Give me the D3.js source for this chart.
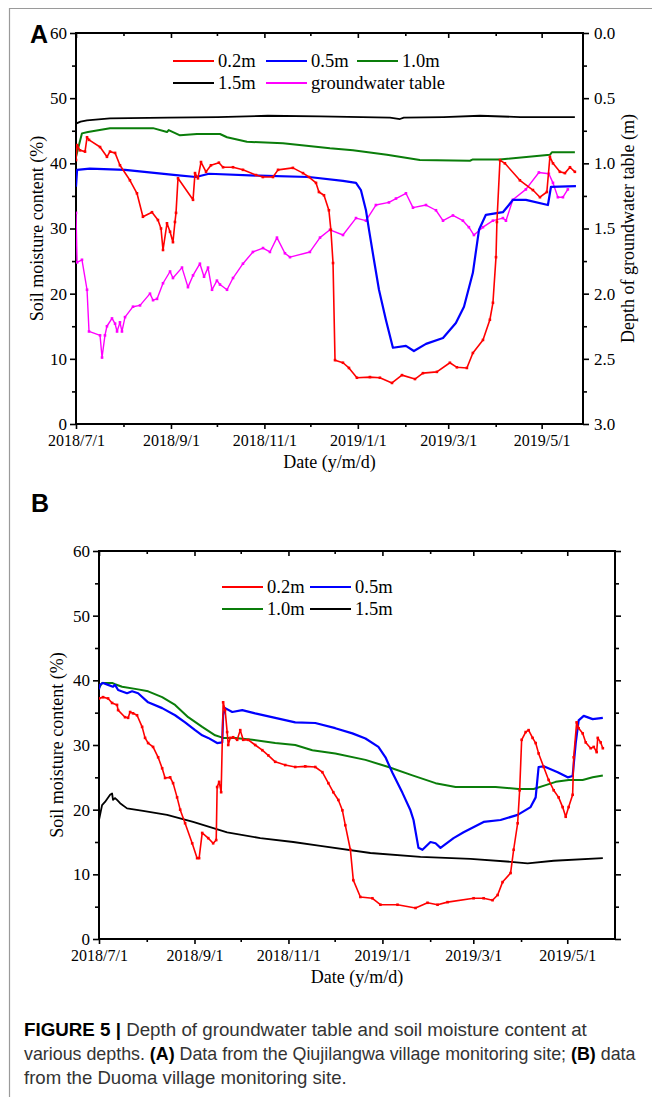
<!DOCTYPE html>
<html>
<head>
<meta charset="utf-8">
<script src="https://cdn.jsdelivr.net/npm/d3@7"></script>
<style>
  html, body { margin: 0; padding: 0; background: #fff; }
  svg { display: block; }
</style>
</head>
<body>
<svg id="fig" width="652" height="1097"></svg>
<script>
// ---------------- DATA (day offset from 2018/7/1, value) ----------------
const startDate = "2018-07-01";
const endDateA = 331;           // days shown in panel A
const endDateB = 335;           // days shown in panel B (to 2019/6/1)

// Panel A - soil moisture (%)
const a_02 = [[0,40.5],[0.7,42.8],[2.6,42],[5.9,41.8],[7.2,44],[8.5,43.6],[15.7,42.5],[20.2,41],[22.2,41.8],[25.5,41.6],[28.7,39.7],[35.2,37.4],[39.8,35.4],[43.7,31.8],[49.6,32.5],[53.5,31.3],[55.5,30],[56.8,26.7],[59.4,30.8],[61.4,29.5],[63.3,27.9],[64.6,31],[65.3,32.4],[66.6,37.7],[76.4,34.4],[77.7,38.5],[79.6,37.7],[81.6,40.2],[84.9,38.7],[88.1,39.7],[93.3,40.1],[96,39.4],[102.5,39.4],[109,39],[117.5,38.2],[122,37.9],[128.6,37.9],[131.9,39],[141.6,39.3],[148.2,38.5],[152.1,37.9],[156.7,37],[158.6,35.6],[161.9,35.1],[165.1,32.8],[166.4,29.8],[167.8,24.7],[169.1,9.8],[174.3,9.4],[178.2,8.6],[183.4,7.1],[191.9,7.2],[198.4,7.1],[206.3,6.3],[212.8,7.5],[221.3,6.9],[226.5,7.8],[235.6,8],[244.1,9.4],[248.7,8.7],[255.2,8.6],[259.1,10.9],[265.7,12.9],[270.2,16],[272.2,18.6],[274.2,25.6],[274.8,31],[276.8,40.5],[280,40],[289.8,37.4],[298.3,35.9],[302.9,34.8],[307.4,35.6],[309.4,41],[311.4,40],[315.9,38.7],[319.2,38.5],[322.5,39.4],[325.7,38.7]];
const a_05 = [[0,36.4],[0.7,39],[9,39.2],[32,39],[65.3,38.2],[78.3,37.9],[86.8,38.4],[119.5,38.1],[152.1,37.9],[174.3,37.3],[182.8,37],[186,35.9],[189.3,32.8],[191.3,29.8],[194.5,25.2],[197.8,20.6],[202.3,16],[206.9,11.7],[215.4,12],[220.6,11.2],[228.5,12.3],[239.6,13.2],[248,15.5],[253.3,18],[259.1,23.2],[263.1,29.8],[267.6,32.1],[278.7,32.5],[282.6,33.6],[285.2,34.4],[293.7,34.4],[308.1,33.6],[310.1,36.4],[326.4,36.5]];
const a_10 = [[0,41],[3.9,44.6],[7.8,44.8],[22.2,45.4],[50.3,45.4],[59.4,44.8],[60.5,45.1],[67.9,44.3],[79,44.5],[94,44.5],[98.6,44],[111.6,43.3],[135.1,43.1],[165.8,42.3],[180.8,42],[203,41.3],[224.5,40.5],[257.2,40.4],[259.1,40.6],[276.8,40.6],[309.4,41.3],[310.7,41.7],[325.7,41.7]];
const a_15 = [[0,46.1],[3,46.4],[7.2,46.6],[22.2,46.9],[60,47],[92.7,47.1],[125.3,47.3],[159.3,47.2],[205,47.0],[211.5,46.8],[214,47.0],[240,47.1],[263.7,47.3],[290,47.1],[325.7,47.1]];
// Panel A - groundwater table depth (m)
const a_gw = [[0,1.38],[0.7,1.76],[3.9,1.74],[7.2,1.97],[8.5,2.29],[15.7,2.32],[17,2.49],[18.9,2.32],[20.2,2.25],[23.5,2.19],[25.5,2.23],[26.8,2.29],[28.7,2.22],[30,2.29],[32,2.18],[37.2,2.10],[41.8,2.09],[48.3,2.0],[50.3,2.05],[52.9,2.04],[56.8,1.92],[61.4,1.83],[63.3,1.88],[69.2,1.80],[73.1,1.95],[76.4,1.86],[80.9,1.77],[83.6,1.87],[86.2,1.80],[88.8,1.97],[92,1.90],[94,1.93],[98.6,1.97],[102.5,1.88],[109,1.77],[115.5,1.68],[122.1,1.65],[126.6,1.68],[131.2,1.57],[136.4,1.69],[139.7,1.72],[152.7,1.68],[159.3,1.57],[165.8,1.51],[174.3,1.55],[182.8,1.42],[189.3,1.44],[195.8,1.32],[204.3,1.30],[208.9,1.27],[215.4,1.23],[220,1.34],[228.5,1.32],[235,1.36],[239.6,1.44],[246.1,1.40],[252.6,1.44],[256.5,1.49],[259.8,1.55],[265.7,1.49],[272.2,1.44],[278.7,1.42],[280.7,1.44],[285.2,1.28],[293.7,1.20],[302.2,1.07],[308.7,1.08],[311.4,1.15],[314.6,1.26],[317.9,1.26],[321.1,1.20]];

// Panel B - soil moisture (%)
const b_02 = [[0,37.2],[2.6,37.4],[5.9,37.2],[8.5,36.5],[11.7,36.2],[12.4,35.4],[16.9,34.3],[18.9,34.2],[20.2,35.1],[22.1,34.9],[24.7,34.6],[28,32.8],[29.9,31.1],[31.9,30.3],[35.1,29.7],[38.4,28.1],[41,26.4],[42.9,24.9],[46.2,25.0],[48.1,24.1],[50.7,21.9],[52.7,20.0],[55.9,17.9],[60.5,14.8],[63.7,12.5],[65,12.5],[67,16.4],[70.9,15.6],[74.1,14.8],[76.1,15.3],[76.7,23.5],[78,24.3],[79.3,22.7],[80.6,36.6],[81.9,35.4],[83.2,32],[83.9,30],[85.2,31.1],[87.1,31.2],[89.7,30.8],[91.7,32.3],[93.6,30.8],[96.9,30.8],[101.4,30],[106,29.2],[109.9,28.4],[114.4,27.4],[120.9,26.9],[127.4,26.6],[133.9,26.7],[140.4,26.6],[145,25.8],[148.9,24.1],[152.1,22.7],[155.4,21.5],[158,19.9],[159.9,17.6],[163.2,13.8],[165.1,9.1],[169.7,6.5],[177.5,6.3],[182.7,5.3],[193.8,5.3],[205.5,4.8],[213.3,5.6],[219.8,5.3],[226.3,5.7],[243.2,6.3],[249.7,6.3],[255.5,6.0],[258.8,6.8],[262,8.8],[267.2,10.2],[269.2,13.8],[271.8,17.9],[273.1,23.0],[274.4,30.8],[277,32],[278.9,32.3],[281.5,31.1],[283.5,30.3],[285.4,28.7],[288.7,26.6],[291.9,24.6],[295.2,23.0],[298.4,21.9],[301,20.4],[303,18.9],[304.9,20.4],[307.5,22.3],[308.2,28.1],[310.1,33.5],[311.4,32.6],[314,31.8],[316,30.4],[319.2,29.5],[321.2,29.7],[323.1,28.9],[323.8,31.1],[325.7,30.4],[327.1,29.5]];
const b_05 = [[0,38.6],[0.6,39.3],[2.6,39.6],[5.9,39.3],[9.1,39],[10.4,39.3],[12.4,38.5],[18.2,38.0],[21.5,38.3],[25.4,38.0],[31.9,36.6],[41,35.7],[49.4,34.6],[55.9,33.5],[62.4,32.3],[67,31.5],[70.9,31.1],[76.7,30.3],[80,30.4],[80.6,34.6],[81.9,35.7],[86.5,35.1],[93,35.4],[101.4,34.9],[114.4,34.2],[127.4,33.5],[140.4,33.4],[153.4,32.6],[164.5,31.8],[173,31.0],[181.4,29.7],[186,28.1],[190.5,25.7],[197,22.6],[202.2,19.9],[204.2,18.4],[207.4,14.1],[210,13.8],[215.2,15.0],[218.5,14.8],[221.7,14.1],[230.2,15.6],[236.7,16.5],[249.7,18.1],[260.7,18.4],[271.8,19.2],[280.2,20.4],[283.5,21.9],[285.4,26.6],[288.7,26.7],[297.8,25.8],[304.3,25.0],[307.5,25.2],[309.5,30.3],[311.4,33.8],[314.7,34.5],[320.5,34.0],[327.1,34.2]];
const b_10 = [[0,38.8],[2,39.6],[8.5,39.6],[10.4,39.4],[15,39],[25.4,38.6],[31.9,38.3],[41,37.4],[49.4,36.2],[57.9,34.3],[67,32.8],[75.4,31.5],[80.6,31.1],[88.4,31.1],[99.5,30.8],[114.4,30.3],[127.4,30.0],[138.5,29.2],[153.4,28.7],[173,27.7],[187.9,26.6],[203.5,25.3],[218.5,24.1],[231.5,23.5],[257.5,23.5],[272.4,23.2],[282.2,23.2],[290,23.8],[296.5,24.3],[305,24.6],[314,24.6],[320.5,25.0],[327.1,25.3]];
const b_15 = [[0,18.4],[2,20.7],[3.9,21.2],[7.2,22.3],[8.5,22.5],[9.1,21.5],[10.4,21.8],[11.7,21.5],[13.7,21.0],[18.2,20.2],[28.6,19.8],[44.2,19.2],[61.1,18.1],[83.2,16.5],[104.7,15.6],[126.1,15.0],[143.7,14.4],[176.2,13.3],[208.7,12.7],[241.2,12.4],[269.2,11.9],[278.3,11.7],[295.2,12.1],[327.1,12.5]];

// Axis ticks / labels
const yTicksMoisture = [0, 10, 20, 30, 40, 50, 60];
const yTicksDepth = [0, 0.5, 1.0, 1.5, 2.0, 2.5, 3.0];
const xMajorDates = ["2018-07-01","2018-09-01","2018-11-01","2019-01-01","2019-03-01","2019-05-01"];
const xMinorDates = ["2018-08-01","2018-10-01","2018-12-01","2019-02-01","2019-04-01"];
const legendA = ["0.2m","0.5m","1.0m","1.5m","groundwater table"];
const legendB = ["0.2m","0.5m","1.0m","1.5m"];
const colors = {r:"#ff0000", b:"#0000ff", g:"#0a7d0a", k:"#000000", m:"#ff00ff"};

// ---------------- DRAWING ----------------
const serif = "'Liberation Serif','Times New Roman',serif";
const sans = "'Liberation Sans',Arial,Helvetica,sans-serif";
const svg = d3.select("#fig");
const t0 = new Date(startDate + "T00:00:00Z");
const dayToDate = d => new Date(t0.getTime() + d * 864e5);
const parse = s => new Date(s + "T00:00:00Z");
const fmt = d => `${d.getUTCFullYear()}/${d.getUTCMonth()+1}/${d.getUTCDate()}`;

// frame
svg.append("path").attr("d", "M9.5,1097 L9.5,8.5 L652,8.5").attr("fill","none").attr("stroke","#9a9a9a").attr("stroke-width",1.2);

function panel(cfg) {
  const g = svg.append("g");
  const x = d3.scaleUtc().domain([t0, dayToDate(cfg.endDay)]).range([cfg.l, cfg.r]);
  const y = d3.scaleLinear().domain([0, 60]).range([cfg.b, cfg.t]);
  const clipId = "clip" + cfg.name;
  svg.append("clipPath").attr("id", clipId).append("rect")
    .attr("x", cfg.l).attr("y", cfg.t - 2).attr("width", cfg.r - cfg.l).attr("height", cfg.b - cfg.t + 2);

  const styleAxis = (fs) => (sel) => {
    sel.select(".domain").remove();
    sel.selectAll(".tick line").attr("stroke", "#000").attr("stroke-width", 1.6);
    sel.selectAll(".tick text").attr("font-family", serif).attr("font-size", fs).attr("fill", "#000");
  };

  // bottom axis
  g.append("g").attr("transform", `translate(0,${cfg.b})`)
    .call(d3.axisBottom(x).tickValues(xMajorDates.map(parse)).tickFormat(fmt).tickSize(5).tickPadding(6))
    .call(styleAxis(16));
  g.append("g").attr("transform", `translate(0,${cfg.b})`)
    .call(d3.axisBottom(x).tickValues(xMinorDates.map(parse)).tickFormat("").tickSize(3))
    .call(styleAxis(16));
  // top axis (ticks pointing inward)
  g.append("g").attr("transform", `translate(0,${cfg.t})`)
    .call(d3.axisBottom(x).tickValues(xMajorDates.map(parse)).tickFormat("").tickSize(5))
    .call(styleAxis(16));
  g.append("g").attr("transform", `translate(0,${cfg.t})`)
    .call(d3.axisBottom(x).tickValues(xMinorDates.map(parse)).tickFormat("").tickSize(3))
    .call(styleAxis(16));
  // left axis
  g.append("g").attr("transform", `translate(${cfg.l},0)`)
    .call(d3.axisLeft(y).tickValues(yTicksMoisture).tickSize(6).tickPadding(3))
    .call(styleAxis(17));
  g.append("g").attr("transform", `translate(${cfg.l},0)`)
    .call(d3.axisLeft(y).tickValues([5,15,25,35,45,55]).tickFormat("").tickSize(4))
    .call(styleAxis(17));

  let yR = null;
  if (cfg.depth) {
    yR = d3.scaleLinear().domain([0, 3]).range([cfg.t, cfg.b]);
    g.append("g").attr("transform", `translate(${cfg.r},0)`)
      .call(d3.axisRight(yR).tickValues(yTicksDepth).tickFormat(d3.format(".1f")).tickSize(6).tickPadding(5))
      .call(styleAxis(17));
    g.append("g").attr("transform", `translate(${cfg.r},0)`)
      .call(d3.axisRight(yR).tickValues([0.25,0.75,1.25,1.75,2.25,2.75]).tickFormat("").tickSize(4))
      .call(styleAxis(17));
  } else {
    g.append("g").attr("transform", `translate(${cfg.r},0)`)
      .call(d3.axisRight(y).tickValues(yTicksMoisture).tickFormat("").tickSize(6))
      .call(styleAxis(17));
    g.append("g").attr("transform", `translate(${cfg.r},0)`)
      .call(d3.axisRight(y).tickValues([5,15,25,35,45,55]).tickFormat("").tickSize(4))
      .call(styleAxis(17));
  }

  // frame
  g.append("rect").attr("x", cfg.l).attr("y", cfg.t).attr("width", cfg.r - cfg.l).attr("height", cfg.b - cfg.t)
    .attr("fill", "none").attr("stroke", "#000").attr("stroke-width", 2);

  // series
  const plot = g.append("g").attr("clip-path", `url(#${clipId})`);
  cfg.series.forEach(s => {
    const ys = s.depth ? yR : y;
    const line = d3.line().x(d => x(dayToDate(d[0]))).y(d => ys(d[1]));
    plot.append("path").datum(s.data).attr("d", line).attr("fill", "none")
      .attr("stroke", s.color).attr("stroke-width", s.w).attr("stroke-linejoin", "round");
    if (s.marks) {
      plot.selectAll(null).data(s.data).enter().append("rect")
        .attr("x", d => x(dayToDate(d[0])) - 1.3).attr("y", d => ys(d[1]) - 1.3)
        .attr("width", 2.6).attr("height", 2.6).attr("fill", s.color);
    }
  });

  // titles
  g.append("text").attr("x", (cfg.l + cfg.r) / 2).attr("y", cfg.b + 44).attr("text-anchor", "middle")
    .attr("font-family", serif).attr("font-size", 18).text("Date (y/m/d)");
  g.append("text").attr("transform", `translate(${cfg.ylabX},${(cfg.t + cfg.b) / 2}) rotate(-90)`)
    .attr("text-anchor", "middle").attr("font-family", serif).attr("font-size", 18).text("Soil moisture content (%)");
  if (cfg.depth) {
    g.append("text").attr("transform", `translate(${cfg.r + 51},${(cfg.t + cfg.b) / 2}) rotate(-90)`)
      .attr("text-anchor", "middle").attr("font-family", serif).attr("font-size", 18).text("Depth of groundwater table (m)");
  }
  g.append("text").attr("x", cfg.letterX).attr("y", cfg.letterY).attr("font-family", sans)
    .attr("font-weight", "bold").attr("font-size", 25).text(cfg.name);

  // legend
  cfg.legend.forEach(it => {
    g.append("line").attr("x1", it.x).attr("x2", it.x + 41).attr("y1", it.y).attr("y2", it.y)
      .attr("stroke", it.color).attr("stroke-width", 2);
    g.append("text").attr("x", it.x + 45).attr("y", it.y + 6).attr("font-family", serif)
      .attr("font-size", 18.5).text(it.label);
  });
}

panel({
  name: "A", l: 76, r: 583, t: 33, b: 424, endDay: endDateA, depth: true, ylabX: 43,
  letterX: 30, letterY: 43,
  series: [
    {data: a_15, color: colors.k, w: 1.8},
    {data: a_10, color: colors.g, w: 2},
    {data: a_gw, color: colors.m, w: 1.4, depth: true, marks: true},
    {data: a_05, color: colors.b, w: 2.2},
    {data: a_02, color: colors.r, w: 1.6, marks: true}
  ],
  legend: [
    {x: 173, y: 61, color: colors.r, label: legendA[0]},
    {x: 266, y: 61, color: colors.b, label: legendA[1]},
    {x: 357, y: 61, color: colors.g, label: legendA[2]},
    {x: 173, y: 83, color: colors.k, label: legendA[3]},
    {x: 266, y: 83, color: colors.m, label: legendA[4]}
  ]
});

panel({
  name: "B", l: 99, r: 615, t: 551, b: 939, endDay: endDateB, depth: false, ylabX: 63,
  letterX: 31, letterY: 512,
  series: [
    {data: b_15, color: colors.k, w: 1.8},
    {data: b_10, color: colors.g, w: 2},
    {data: b_05, color: colors.b, w: 2.2},
    {data: b_02, color: colors.r, w: 1.6, marks: true}
  ],
  legend: [
    {x: 222, y: 587, color: colors.r, label: legendB[0]},
    {x: 310, y: 587, color: colors.b, label: legendB[1]},
    {x: 222, y: 609, color: colors.g, label: legendB[2]},
    {x: 310, y: 609, color: colors.k, label: legendB[3]}
  ]
});

// caption: each line scaled horizontally as a whole to the reference width
const capLines = [
  {y: 1036, w: 563, parts: [["FIGURE 5 |", true], [" Depth of groundwater table and soil moisture content at", false]]},
  {y: 1060, w: 612, parts: [["various depths. ", false], ["(A)", true], [" Data from the Qiujilangwa village monitoring site; ", false], ["(B)", true], [" data", false]]},
  {y: 1084, w: 323, parts: [["from the Duoma village monitoring site.", false]]}
];
capLines.forEach(cl => {
  const t = svg.append("text").attr("x", 0).attr("y", 0).attr("font-family", sans).attr("font-size", 18).attr("fill", "#333");
  cl.parts.forEach(p => t.append("tspan").attr("font-weight", p[1] ? "bold" : "normal").attr("fill", p[1] ? "#000" : "#333").text(p[0]));
  const len = t.node().getComputedTextLength();
  const sx = cl.w / len;
  t.attr("transform", `translate(24,${cl.y}) scale(${sx.toFixed(4)},1)`);
});
</script>
</body>
</html>
